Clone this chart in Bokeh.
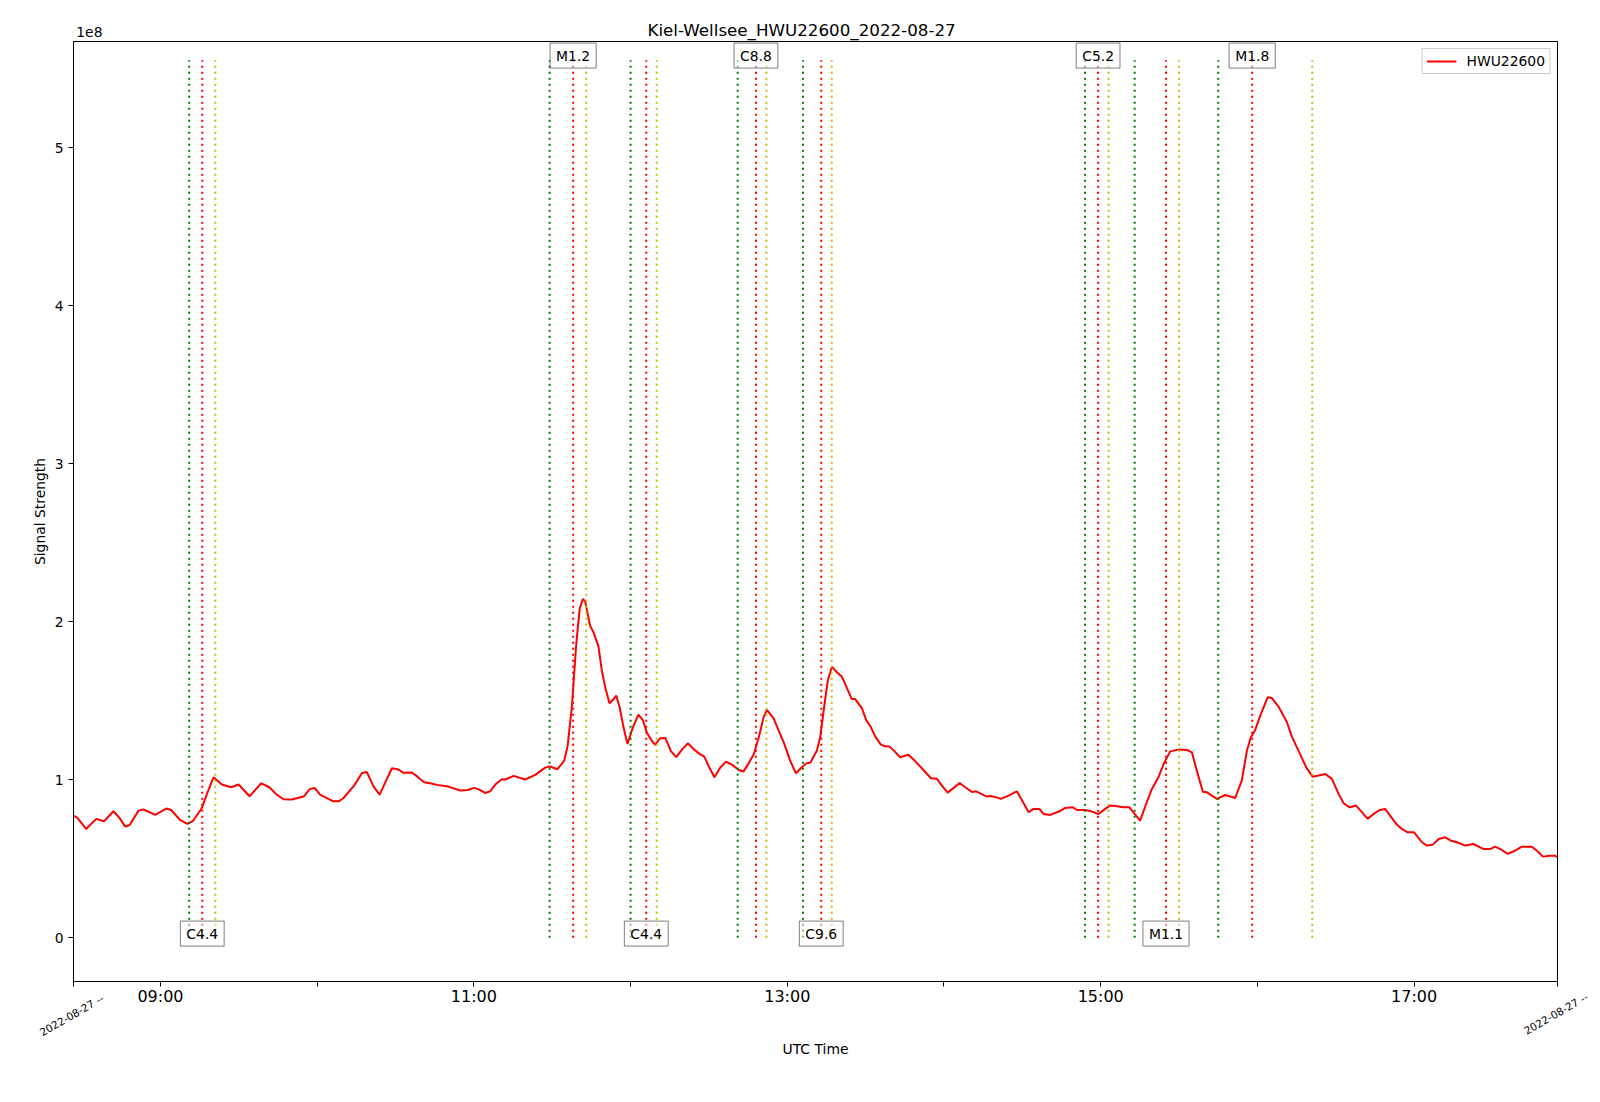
import json
import numpy as np
import pandas as pd
from bokeh.plotting import figure
from bokeh.models import (Range1d, FixedTicker, DatetimeTickFormatter, CustomJSTickFormatter,
                          LinearAxis, ColumnDataSource)
from bokeh.embed import file_html
from bokeh.resources import INLINE
from bokeh.core.properties import value

FONT = "DejaVu Sans"

# ---------------- data ----------------
station = "Kiel-Wellsee"
transmitter = "HWU22600"
date = "2022-08-27"

# time of each sample, in minutes after 09:00 UTC
minutes_after_0900 = [
    -33.3, -31.8, -28.5, -24.6, -21.6, -18.0, -15.7, -13.5, -11.8, -8.4, -6.5, -2.0,
    2.2, 4.1, 7.5, 10.3, 12.4, 15.8, 17.8, 20.3, 23.5, 27.0, 29.9, 34.1, 38.6, 41.7,
    44.5, 47.1, 50.3, 54.8, 57.1, 59.0, 61.1, 66.2, 68.2, 70.1, 74.2, 77.1, 79.0, 81.6,
    83.9, 86.4, 88.6, 91.1, 93.0, 96.2, 98.4, 100.9, 103.3, 105.8, 110.3, 114.7, 117.6,
    120.1, 122.1, 124.3, 126.2, 128.2, 130.7, 132.0, 135.2, 139.6, 143.5, 147.3, 149.2,
    152.0, 154.6, 155.9, 157.5, 159.2, 160.5, 161.7, 162.6, 164.5, 165.8, 167.7, 169.0,
    170.3, 171.9, 173.5, 174.5, 175.8, 177.3, 178.8, 180.9, 183.0, 184.7, 186.2, 188.1,
    189.4, 191.3, 193.3, 195.5, 197.5, 199.6, 201.9, 204.1, 206.4, 208.2, 210.2, 212.1,
    214.3, 216.5, 218.8, 221.3, 223.2, 225.2, 227.3, 229.4, 230.9, 232.2, 234.7, 236.7,
    238.6, 241.1, 243.3, 245.2, 247.2, 248.8, 251.3, 252.6, 254.1, 255.5, 257.1, 259.0,
    260.9, 262.6, 264.7, 266.0, 268.6, 270.2, 271.7, 273.7, 275.8, 277.5, 279.2, 281.1,
    283.2, 286.4, 289.0, 291.5, 295.0, 297.3, 299.2, 301.4, 303.7, 306.0, 308.1, 310.7,
    312.3, 314.5, 316.4, 317.7, 320.2, 321.8, 324.7, 327.9, 329.8, 332.4, 334.3, 336.5,
    338.1, 340.7, 344.2, 346.4, 349.3, 350.9, 354.1, 356.6, 359.2, 361.7, 363.6, 365.6,
    368.7, 371.0, 373.2, 375.1, 377.4, 379.6, 382.1, 384.1, 386.6, 389.8, 393.0, 394.9,
    396.8, 399.1, 400.7, 404.5, 407.7, 411.5, 414.0, 416.0, 417.5, 419.2, 421.1, 423.9,
    425.5, 428.1, 431.3, 433.2, 435.7, 438.7, 441.1, 443.4, 446.0, 448.5, 451.1, 453.0,
    455.3, 457.8, 460.0, 462.2, 464.5, 466.8, 468.9, 470.8, 473.4, 475.3, 477.5, 480.0,
    483.0, 484.9, 487.2, 489.4, 491.9, 494.1, 496.4, 499.6, 502.7, 506.6, 509.1, 511.0,
    513.0, 515.8, 518.1, 521.3, 525.1, 527.3, 529.3, 532.1, 534.0, 534.9,
]

# signal strength, in units of 1e8
signal_1e8 = [
    0.774, 0.759, 0.689, 0.753, 0.738, 0.801, 0.759, 0.704, 0.714, 0.805, 0.812, 0.778,
    0.818, 0.809, 0.746, 0.721, 0.738, 0.820, 0.911, 1.016, 0.970, 0.953, 0.970, 0.896, 0.978, 0.953,
    0.906, 0.877, 0.875, 0.894, 0.940, 0.949, 0.906, 0.864, 0.864, 0.885, 0.965, 1.041, 1.050, 0.957,
    0.906, 0.995, 1.073, 1.065, 1.044, 1.046, 1.020, 0.984, 0.978, 0.968, 0.957, 0.932, 0.936,
    0.949, 0.938, 0.917, 0.927, 0.970, 1.004, 1.002, 1.025, 1.002, 1.031, 1.077, 1.084,
    1.067, 1.121, 1.216, 1.459, 1.859, 2.081, 2.144, 2.129, 1.975, 1.933, 1.844, 1.690,
    1.585, 1.484, 1.511, 1.533, 1.459, 1.332, 1.227, 1.332, 1.412, 1.378, 1.300, 1.248,
    1.221, 1.263, 1.265, 1.180, 1.143, 1.189, 1.231, 1.195, 1.164, 1.147, 1.076, 1.016,
    1.076, 1.115, 1.096, 1.064, 1.052, 1.104, 1.167, 1.290, 1.395, 1.442, 1.391, 1.311,
    1.238, 1.121, 1.041, 1.073, 1.104, 1.108, 1.184, 1.269, 1.459, 1.627, 1.716, 1.680,
    1.653, 1.589, 1.511, 1.511, 1.452, 1.378, 1.342, 1.273, 1.223, 1.212, 1.210, 1.180,
    1.143, 1.159, 1.117, 1.073, 1.010, 1.006, 0.963, 0.919, 0.949, 0.980, 0.953, 0.923,
    0.927, 0.910, 0.894, 0.898, 0.889, 0.879, 0.900, 0.927, 0.872, 0.795, 0.816, 0.816,
    0.784, 0.778, 0.801, 0.822, 0.826, 0.809, 0.809, 0.799, 0.784, 0.816, 0.837, 0.835,
    0.826, 0.826, 0.780, 0.742, 0.847, 0.942, 1.016, 1.100, 1.180, 1.191, 1.189, 1.174,
    1.058, 0.925, 0.921, 0.879, 0.904, 0.885, 0.995, 1.185, 1.269, 1.317, 1.406, 1.522,
    1.518, 1.463, 1.364, 1.273, 1.185, 1.079, 1.020, 1.027, 1.037, 1.006, 0.911, 0.852,
    0.826, 0.837, 0.795, 0.753, 0.784, 0.809, 0.816, 0.774, 0.717, 0.689, 0.668, 0.668,
    0.605, 0.584, 0.590, 0.626, 0.636, 0.615, 0.605, 0.584, 0.594, 0.562, 0.562, 0.577,
    0.562, 0.531, 0.548, 0.577, 0.577, 0.548, 0.514, 0.520, 0.520, 0.510,
]

# solar flares (UTC)
flare_start = ["09:11", "11:29", "12:00", "12:41", "13:06", "14:54", "15:13", "15:45"]
flare_peak = ["09:16", "11:38", "12:06", "12:48", "13:13", "14:59", "15:25", "15:58"]
flare_end = ["09:21", "11:43", "12:10", "12:52", "13:17", "15:03", "15:30", "16:21"]
flare_class = ["C4.4", "M1.2", "C4.4", "C8.8", "C9.6", "C5.2", "M1.1", "M1.8"]

y_ticks = [0, 1, 2, 3, 4, 5]
x_major_hours = ["09:00", "11:00", "13:00", "15:00", "17:00"]
x_minor_hours = ["10:00", "12:00", "14:00", "16:00"]
edge_label = "2022-08-27 --"
offset_label = "1e8"

# ---------------- helpers ----------------
def ms(ts):
    return pd.Timestamp(ts).value / 1e6

base = pd.Timestamp(f"{date} 09:00")
times = [base + pd.Timedelta(minutes=m) for m in minutes_after_0900]
signal = [v * 1e8 for v in signal_1e8]

def clock(hhmm):
    return pd.Timestamp(f"{date} {hhmm}")

t0, t1 = times[0], times[-1]
Y0, Y1 = -0.276e8, 5.671e8
VLINE_TOP = 5.553e8

W, H = 1600, 1102
BL, BR, BT, BB = 73, 43, 41, 121
FRAME_H = H - BT - BB

def px_to_y(px):
    return px / FRAME_H * (Y1 - Y0)

# approximate DejaVu Sans advance widths (em) for the flare-class label boxes
ADV = {"C": 0.698, "M": 0.863, "X": 0.685, ".": 0.318}
def text_em(s):
    return sum(ADV.get(ch, 0.636) for ch in s)

p = figure(width=W, height=H, x_axis_type="datetime",
           output_backend="svg", toolbar_location=None,
           x_range=Range1d(t0, t1), y_range=Range1d(Y0, Y1),
           min_border_left=BL, min_border_right=BR, min_border_top=BT, min_border_bottom=BB,
           background_fill_color="white", border_fill_color="white")

p.grid.visible = False
p.outline_line_color = "black"
p.outline_line_width = 1
p.outline_line_alpha = 1

# title (centred on the whole figure)
p.title.text = f"{station}_{transmitter}_{date}"
p.title.align = "left"
p.title.offset = 574
p.title.text_font = FONT
p.title.text_font_size = "16.7px"
p.title.text_font_style = "normal"
p.title.text_color = "black"
p.title.standoff = 4

# signal line
p.line(times, signal, line_color="red", line_width=2, legend_label=transmitter)

# flare markers: start (green), peak (red), end (yellow)
for stamps, col in ((flare_start, "#008000"), (flare_peak, "#ff0000"), (flare_end, "#bfbf00")):
    xs = [clock(s) for s in stamps]
    p.segment(x0=xs, y0=[0] * len(xs), x1=xs, y1=[VLINE_TOP] * len(xs),
              line_color=col, line_width=2, line_dash="2 4")

# flare class labels, alternating bottom / top
lab_x = [clock(pk) for pk in flare_peak]
lab_y = [0.027e8 if i % 2 == 0 else 5.582e8 for i in range(len(flare_peak))]
lab_w = [text_em(c) * 13.9 + 12 for c in flare_class]
src = ColumnDataSource(dict(x=lab_x, y=lab_y, w=lab_w, text=flare_class))
p.rect(x="x", y="y", width="w", height=25, width_units="screen", height_units="screen",
       source=src, fill_color="white", fill_alpha=0.5, line_color="black", line_alpha=0.5,
       line_width=1)
p.text(x="x", y="y", text="text", source=src, text_align="center", text_baseline="middle",
       text_font=value(FONT), text_font_size="13.9px", text_color="black")

# x axis
xa = p.xaxis[0]
xa.ticker = FixedTicker(ticks=[ms(clock(h)) for h in x_major_hours],
                        minor_ticks=[ms(clock(h)) for h in x_minor_hours] + [ms(t0), ms(t1)])
fmt = DatetimeTickFormatter(hours="%H:%M", hourmin="%H:%M", minutes="%H:%M", minsec="%H:%M",
                            days="%H:%M", months="%H:%M", years="%H:%M")
try:
    fmt.strip_leading_zeros = False
except Exception:
    pass
xa.formatter = fmt
xa.major_label_text_font = FONT
xa.major_label_text_font_size = "16px"
xa.major_label_text_color = "black"
xa.major_label_standoff = 0
xa.major_tick_out = 5
xa.major_tick_in = 0
xa.minor_tick_out = 5
xa.minor_tick_in = 0
xa.axis_line_color = "black"
xa.major_tick_line_color = "black"
xa.minor_tick_line_color = "black"
xa.axis_label = "UTC Time"
xa.axis_label_text_font = FONT
xa.axis_label_text_font_size = "13.9px"
xa.axis_label_text_font_style = "normal"
xa.axis_label_text_color = "black"
xa.axis_label_standoff = 32

# y axis
ya = p.yaxis[0]
ya.ticker = FixedTicker(ticks=[v * 1e8 for v in y_ticks])
ya.formatter = CustomJSTickFormatter(code="return (tick / 1e8).toFixed(0);")
ya.major_label_text_font = FONT
ya.major_label_text_font_size = "13.9px"
ya.major_label_text_color = "black"
ya.major_label_standoff = 5
ya.major_tick_out = 5
ya.major_tick_in = 0
ya.major_tick_line_color = "black"
ya.minor_tick_line_color = None
ya.axis_line_color = "black"
ya.axis_label = "Signal Strength"
ya.axis_label_text_font = FONT
ya.axis_label_text_font_size = "13.9px"
ya.axis_label_text_font_style = "normal"
ya.axis_label_text_color = "black"
ya.axis_label_standoff = 4


def text_axis(text, ticks, standoff, size, line_height, orientation="horizontal"):
    return LinearAxis(ticker=FixedTicker(ticks=ticks, minor_ticks=[]),
                      formatter=CustomJSTickFormatter(code="return " + json.dumps(text) + ";"),
                      axis_line_color=None, major_tick_line_color=None,
                      minor_tick_line_color=None, major_tick_out=0, major_tick_in=0,
                      minor_tick_out=0, minor_tick_in=0,
                      major_label_standoff=standoff, major_label_orientation=orientation,
                      major_label_text_font=FONT, major_label_text_font_size=size,
                      major_label_text_line_height=line_height,
                      major_label_text_color="black")

# offset text of the y axis, at the top-left corner (innermost left axis, no width)
e8_axis = text_axis(offset_label + "\n", [Y1], -29, "13.9px", 1.17)
# date context at the left end of the time axis (outermost left axis)
left_date_axis = text_axis("\n" + edge_label, [Y0 + px_to_y(0.6)], -65, "10.5px", 3.11, np.pi / 6)
p.left = [e8_axis] + list(p.left) + [left_date_axis]

# date context at the right end of the time axis (outermost below axis)
right_date_axis = text_axis("\n" + edge_label, [ms(t1)], -115, "10.5px", 9.84, np.pi / 6)
p.add_layout(right_date_axis, "below")

# legend
leg = p.legend[0]
leg.location = "top_right"
leg.margin = 7
leg.padding = 4
leg.spacing = 0
leg.label_text_font = FONT
leg.label_text_font_size = "13.9px"
leg.label_text_color = "black"
leg.glyph_width = 30
leg.glyph_height = 14
leg.label_standoff = 10
leg.border_line_color = "#cccccc"
leg.border_line_alpha = 1
leg.background_fill_alpha = 0.8

open("out.html", "w").write(file_html(p, INLINE))
